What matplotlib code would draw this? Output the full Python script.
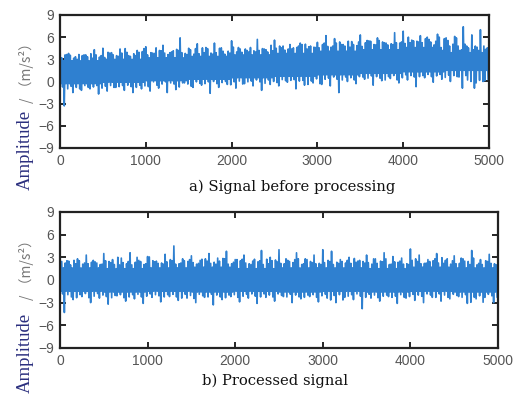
import matplotlib
matplotlib.use("Agg")
import matplotlib.pyplot as plt
import numpy as np

# envelope of the signal, read per 100-sample bin (0..4900)
bins = np.arange(0, 5000, 100)

raw_hi = [5.3, 3.8, 3.0, 3.6, 4.3, 4.5, 3.9, 4.4, 3.5, 4.2,
          4.7, 3.8, 4.9, 4.0, 5.9, 4.5, 5.1, 4.6, 5.2, 4.1,
          5.5, 4.4, 4.0, 5.7, 4.3, 5.6, 4.8, 4.4, 5.2, 4.7,
          5.3, 6.2, 5.8, 5.0, 5.4, 6.3, 5.5, 5.9, 5.2, 6.6,
          6.8, 5.6, 6.2, 5.7, 6.4, 5.9, 6.1, 7.4, 6.3, 7.0]
raw_lo = [-3.3, -1.5, -1.2, -1.0, -1.7, -1.3, -0.8, -1.2, -1.5, -1.0,
          -1.3, -0.9, -1.5, -1.1, -0.2, -0.8, -0.5, -1.6, -0.8, -0.4,
          -0.9, -0.3, -0.6, -1.2, -0.4, -0.6, -0.1, -1.0, -0.5, -0.2,
          -0.4, -0.6, -1.5, 0.0, -0.3, 0.3, -0.5, 0.1, 0.4, -0.2,
          0.2, -0.7, 0.5, -0.1, 0.3, 0.0, 0.6, 0.2, -0.2, 0.1]
# dense core band, per 500-sample segment
raw_core_hi = [2.8, 3.0, 3.2, 3.4, 3.6, 3.8, 4.1, 4.3, 4.6, 4.8]
raw_core_lo = [-0.3, -0.1, 0.1, 0.3, 0.5, 0.7, 0.9, 1.1, 1.3, 1.5]

proc_hi = [4.2, 2.5, 2.8, 3.3, 2.4, 3.5, 2.7, 2.9, 3.6, 2.6,
           3.1, 2.5, 3.4, 4.5, 2.8, 3.2, 2.6, 3.5, 2.9, 3.8,
           2.7, 3.3, 2.5, 3.9, 3.0, 4.0, 2.6, 3.6, 2.8, 3.3,
           4.0, 3.8, 2.7, 3.0, 2.5, 3.3, 2.8, 3.6, 3.1, 2.9,
           4.1, 3.3, 2.7, 3.5, 2.6, 3.2, 2.8, 3.9, 2.7, 3.4]
proc_lo = [-4.3, -2.6, -2.2, -3.0, -2.4, -3.2, -2.1, -2.8, -2.5, -3.1,
           -2.3, -2.9, -2.2, -2.7, -2.4, -3.0, -2.3, -3.3, -2.6, -2.2,
           -2.9, -2.4, -3.1, -2.3, -2.8, -2.2, -3.0, -2.5, -2.2, -2.9,
           -2.4, -3.0, -2.3, -2.6, -3.8, -2.4, -2.8, -2.2, -3.1, -2.4,
           -2.7, -3.0, -2.3, -2.8, -2.5, -2.2, -3.1, -2.5, -2.3, -3.0]
proc_core_hi = [1.6, 1.5, 1.6, 1.7, 1.5, 1.6, 1.6, 1.5, 1.7, 1.6]
proc_core_lo = [-1.5, -1.6, -1.5, -1.6, -1.5, -1.6, -1.5, -1.6, -1.5, -1.6]

captions = ["a) Signal before processing", "b) Processed signal"]
xticks = [0, 1000, 2000, 3000, 4000, 5000]
yticks = [-9, -6, -3, 0, 3, 6, 9]

LINE = "#2f80d0"


def build_trace(hi, lo, core_hi, core_lo):
    """zigzag through the read envelope values, bin by bin"""
    ch = np.repeat(core_hi, 5)
    cl = np.repeat(core_lo, 5)
    n = len(bins)
    H = lambda k: hi[k % n]
    L = lambda k: lo[k % n]
    xs, ys = [], []
    for i, b in enumerate(bins):
        xs += list(b + np.arange(0, 100, 10))
        ys += [hi[i], cl[i], (ch[i] + H(i + 3)) / 2, (cl[i] + L(i + 2)) / 2,
               ch[i], lo[i], (ch[i] + H(i + 7)) / 2, cl[i],
               (ch[i] + H(i + 5)) / 2, (cl[i] + L(i + 4)) / 2]
    xs.append(5000)
    ys.append(ch[-1])
    return np.array(xs), np.array(ys)


fig = plt.figure(figsize=(5.23, 3.94), dpi=100)
ax1 = fig.add_axes([0.1147, 0.6244, 0.8203, 0.3376])
ax2 = fig.add_axes([0.1147, 0.1168, 0.8375, 0.3452])

series = [(raw_hi, raw_lo, raw_core_hi, raw_core_lo),
          (proc_hi, proc_lo, proc_core_hi, proc_core_lo)]

for ax, s in zip([ax1, ax2], series):
    x, y = build_trace(*s)
    ax.plot(x, y, color=LINE, lw=1.2)
    ax.set_xlim(0, 5000)
    ax.set_ylim(-9, 9)
    ax.set_xticks(xticks)
    ax.set_yticks(yticks)
    ax.tick_params(direction="in", top=True, right=True, length=4, width=1.2,
                   labelsize=10, labelcolor="#555555", pad=4)
    for lab in ax.get_xticklabels() + ax.get_yticklabels():
        lab.set_family("Liberation Sans")
    for sp in ax.spines.values():
        sp.set_linewidth(1.6)
        sp.set_color("#222222")

# y labels: "Amplitude" in navy serif, unit in grey
for y_amp, y_unit in [(190, 103), (393, 300)]:
    fig.text(25 / 523, 1 - y_amp / 394, "Amplitude", rotation=90,
             ha="center", va="bottom", color="#2b2f7e",
             family="Liberation Serif", fontsize=13.5)
    fig.text(27 / 523, 1 - y_unit / 394, "/ （m/s²）", rotation=90,
             ha="center", va="bottom", color="#777777",
             family=["Noto Sans CJK SC", "DejaVu Sans"], fontsize=10)

fig.text(292 / 523, 1 - 187 / 394, captions[0], ha="center", va="center",
         family="DejaVu Serif", fontsize=10.6, color="#111111")
fig.text(275 / 523, 1 - 381 / 394, captions[1], ha="center", va="center",
         family="DejaVu Serif", fontsize=10.6, color="#111111")

fig.savefig("out.png", dpi=100)
